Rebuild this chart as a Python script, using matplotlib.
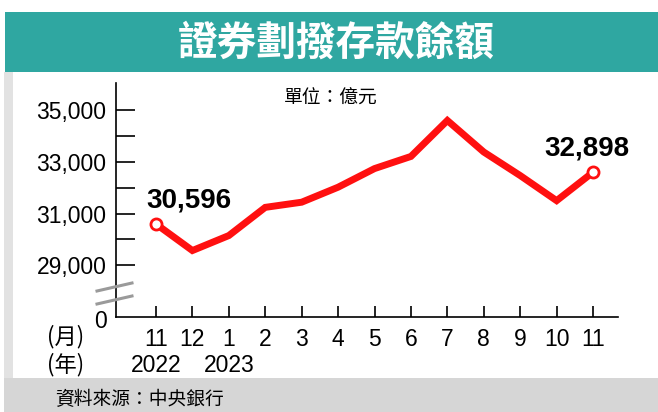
import matplotlib.pyplot as plt
from matplotlib.patches import Rectangle
from matplotlib.lines import Line2D
from matplotlib.transforms import blended_transform_factory

plt.rcParams['font.family'] = ['Liberation Sans', 'Noto Sans CJK TC', 'DejaVu Sans']

W, H = 658, 412

# data (億元)
months = ['11', '12', '1', '2', '3', '4', '5', '6', '7', '8', '9', '10', '11']
years = ['2022', '', '2023', '', '', '', '', '', '', '', '', '', '']
values = [30596, 29570, 30150, 31240, 31440, 32020, 32740, 33210, 34600,
          33380, 32470, 31500, 32600]
first_label = '30,596'
last_label = '32,898'
yticks = [29000, 31000, 33000, 35000]
yminor = [30000, 32000, 34000]


def fx(x):
    return x / W


def fy(y):
    return 1 - y / H


fig = plt.figure(figsize=(W / 100, H / 100), dpi=100)
fig.patch.set_facecolor('white')

# frame: banner, left strip, bottom band
fig.add_artist(Rectangle((fx(5), fy(72)), fx(653), 60 / H, color='#2fa7a1', lw=0))
fig.add_artist(Rectangle((fx(4), fy(378)), fx(9), 306 / H, color='#e2e2e2', lw=0))
fig.add_artist(Rectangle((fx(4), 0), fx(654), 34 / H, color='#d6d6d6', lw=0))

fig.text(fx(336), fy(43), '證券劃撥存款餘額', color='white', fontsize=28.5,
         fontweight='bold', ha='center', va='center', family='Noto Sans CJK TC')
fig.text(fx(55), fy(400), '資料來源：中央銀行', fontsize=13.5, ha='left', va='center',
         family='Noto Sans CJK TC')

ax = fig.add_axes([fx(116), fy(317), (618 - 116) / W, (317 - 83) / H])
x = list(range(len(values)))
ax.plot(x, values, color='#ff1010', lw=5, solid_joinstyle='miter', zorder=3)
ax.plot([x[0], x[-1]], [values[0], values[-1]], 'o', ms=8, mfc='white',
        mec='#ff1010', mew=2, zorder=4)
ax.text(x[0] + 0.9, values[0] + 920, first_label, fontsize=20, fontweight='bold',
        ha='center', va='center')
ax.text(x[-1] - 0.18, values[-1] + 900, last_label, fontsize=20, fontweight='bold',
        ha='center', va='center')

ax.set_xlim(-1.098, 12.685)
ax.set_ylim(27000, 36050)
for s in ['top', 'right']:
    ax.spines[s].set_visible(False)
for s in ['left', 'bottom']:
    ax.spines[s].set_linewidth(1.2)

ax.set_yticks(yticks)
ax.set_yticklabels([f'{v:,}' for v in yticks])
ax.set_yticks(yminor, minor=True)
ax.tick_params(axis='y', which='both', direction='in', length=14, width=1.2,
               labelsize=16.5, pad=7)
ax.set_xticks(x)
ax.set_xticklabels(months)
ax.tick_params(axis='x', direction='in', length=8, width=1.2, labelsize=16.5, pad=8)

tr = blended_transform_factory(ax.transData, fig.transFigure)
for i, yr in enumerate(years):
    if yr:
        ax.text(i, fy(365), yr, fontsize=16.5, ha='center', va='center', transform=tr)

fig.text(fx(107), fy(321), '0', fontsize=16.5, ha='right', va='center')
fig.text(fx(66), fy(337), '(月)', fontsize=16, ha='center', va='center',
         family='Noto Sans CJK TC')
fig.text(fx(66), fy(365), '(年)', fontsize=16, ha='center', va='center',
         family='Noto Sans CJK TC')
fig.text(fx(331), fy(98), '單位：億元', fontsize=13.5, ha='center', va='center',
         family='Noto Sans CJK TC')

# axis break marks
for y0 in (291, 304):
    fig.add_artist(Line2D([fx(97), fx(132)], [fy(y0), fy(y0 - 8)],
                          color='#9a9a9a', lw=2.2))

fig.savefig('out.png', dpi=100)
